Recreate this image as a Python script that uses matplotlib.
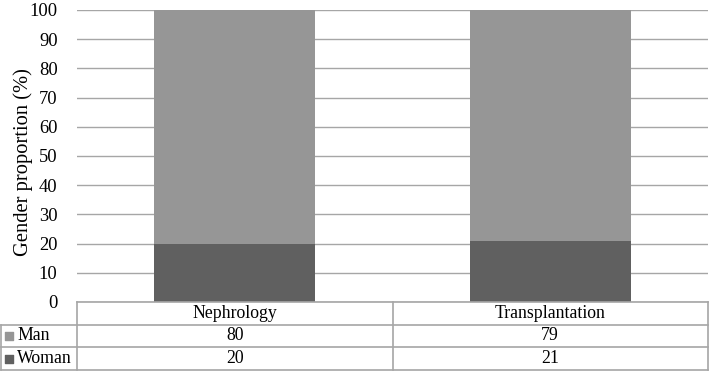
import numpy as np
import matplotlib.pyplot as plt

# ========= DATA =========
categories = ['Nephrology', 'Transplantation']
series_names = ['Man', 'Woman']
man = [80, 79]
woman = [20, 21]
yticks = list(range(0, 101, 10))

# ========= STYLE =========
plt.rcParams['font.family'] = ['Liberation Serif', 'DejaVu Serif']
color_man = '#969696'
color_woman = '#606060'
grid_color = '#a6a6a6'
fs = 12.8

W, H = 709, 378
fig = plt.figure(figsize=(W / 100, H / 100), dpi=100)

left_px, right_px, top_px, zero_px, table_bot = 77, 708, 10, 302, 370
ax = fig.add_axes([left_px / W, 1 - zero_px / H, (right_px - left_px) / W, (zero_px - top_px) / H])

x = np.arange(len(categories))
ax.bar(x, woman, width=0.51, color=color_woman, zorder=3)
ax.bar(x, man, width=0.51, bottom=woman, color=color_man, zorder=3)

ax.set_xlim(-0.5, len(categories) - 0.5)
ax.set_ylim(0, 100)
ax.set_yticks(yticks)
ax.tick_params(axis='y', length=0, labelsize=13.3, pad=14)
ax.set_xticks([])
ax.yaxis.grid(True, color=grid_color, linewidth=1)
for s in ax.spines.values():
    s.set_visible(False)
ax.set_ylabel('Gender proportion (%)', fontsize=14.8)
ax.yaxis.set_label_coords(-0.07, 0.479)

# ========= DATA TABLE =========
tax = fig.add_axes([0, 1 - table_bot / H, right_px / W, (table_bot - zero_px) / H])
unit = (right_px - left_px) / len(categories)
x0 = -0.5 - left_px / unit
tax.set_xlim(x0, len(categories) - 0.5)
tax.set_ylim(3, 0)
tax.axis('off')

lw = 1.2
kw = dict(color=grid_color, linewidth=lw, clip_on=False)
xr = len(categories) - 0.5
tax.plot([-0.5, xr], [0, 0], **kw)
for yy in [1, 2, 3]:
    tax.plot([x0 + 0.003, xr], [yy, yy], **kw)
tax.plot([x0 + 0.003, x0 + 0.003], [1, 3], **kw)
for xx in np.arange(-0.5, xr + 0.01, 1):
    tax.plot([xx, xx], [0, 3], **kw)

for i, c in enumerate(categories):
    tax.text(i, 0.5, c, ha='center', va='center', fontsize=fs)
    tax.text(i, 1.5, str(man[i]), ha='center', va='center', fontsize=fs)
    tax.text(i, 2.5, str(woman[i]), ha='center', va='center', fontsize=fs)

for r, (name, col) in enumerate(zip(series_names, [color_man, color_woman])):
    yy = 1.5 + r
    tax.scatter([x0 + 0.03], [yy], marker='s', s=38, color=col, clip_on=False)
    tax.text(x0 + 0.055, yy, name, ha='left', va='center', fontsize=fs)

fig.savefig('out.png', dpi=100)
